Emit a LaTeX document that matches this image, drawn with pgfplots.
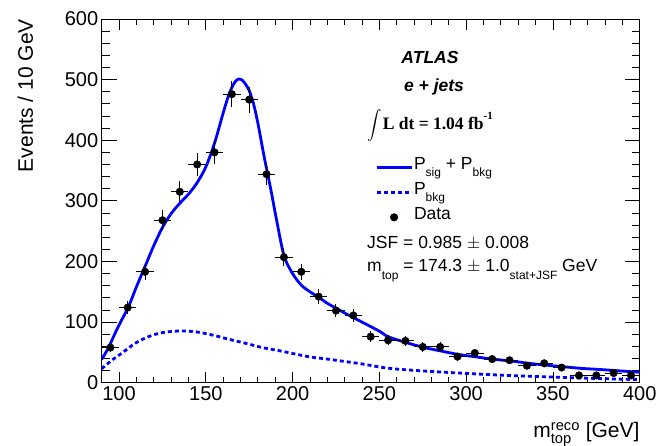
\documentclass[border=0pt]{standalone}
\usepackage{fontspec}
\setmainfont{Liberation Sans}
\newfontfamily\timesf{Liberation Serif}
\usepackage{amsmath}
\usepackage{pgfplots}
\pgfplotsset{compat=1.18}
\pgfplotstableread{
x y ex ey
95 58 5 7.6
105 124 5 11.1
115 183 5 13.5
125 268 5 16.4
135 315 5 17.7
145 360 5 19.0
155 380 5 19.5
165 476 5 21.8
175 467 5 21.6
185 344 5 18.5
195 207 5 14.4
205 183 5 13.5
215 142 5 11.9
225 119 5 10.9
235 111 5 10.5
245 76 5 8.7
255 70 5 8.4
265 69 5 8.3
275 59 5 7.7
285 59 5 7.7
295 43 5 6.6
305 49 5 7.0
315 39 5 6.2
325 37 5 6.1
335 28 5 5.3
345 32 5 5.7
355 25 5 5.0
365 12 5 3.5
375 12 5 3.5
385 16 5 4.0
395 12 5 3.5
}\datatable
\newcommand\lsub[1]{\raisebox{-0.42em}{\fontsize{12}{12}\selectfont #1}}
\newcommand\lsup[1]{\raisebox{0.55em}{\fontsize{11}{11}\selectfont #1}}
\begin{document}
\begin{tikzpicture}[x=1pt,y=1pt]
\useasboundingbox (-101.7,-62.3) rectangle (556.3,382.7);
\begin{axis}[
  at={(0,0)}, anchor=south west,
  scale only axis, width=538pt, height=363.7pt,
  xmin=90, xmax=400, ymin=0, ymax=600,
  xtick={100,150,...,400}, minor x tick num=4,
  ytick={0,100,...,600}, minor y tick num=4,
  tick align=inside, tick pos=both,
  xticklabel pos=lower, yticklabel pos=left,
  major tick length=15pt, minor tick length=8pt,
  xtick style={/pgfplots/major tick length=11pt,/pgfplots/minor tick length=6pt},
  every tick/.style={black, line width=0.8pt},
  axis line style={line width=1pt},
  ticklabel style={font=\fontsize{20}{24}\selectfont},
  /pgf/number format/assume math mode=true,
  ylabel={Events / 10 GeV},
  ylabel style={at={(axis description cs:-0.1277,1)}, anchor=base east, inner sep=0pt, font=\fontsize{21}{24}\selectfont},
  xlabel={m$^{\text{reco}}_{\text{top}}$ [GeV]},
  xlabel style={at={(axis description cs:1,-0.151)}, anchor=base east, inner sep=0pt, font=\fontsize{21}{24}\selectfont},
  legend style={at={(axis description cs:0.508,0.623)}, anchor=north west, draw=none, fill=none, inner sep=0pt,
    font=\fontsize{17.5}{20}\selectfont, row sep=3pt,
    nodes={inner sep=1pt, text height=12pt, text depth=8pt},
    /tikz/every even column/.append style={column sep=6pt}},
  legend cell align=left,
  legend image code/.code={\draw[#1] (0pt,0pt) -- (35pt,0pt);},
]
\addplot[blue, line width=2.8pt, smooth, tension=0.5] coordinates {
(90,38.6) (93.8,57) (97.7,81.5) (101.5,103.5) (105.4,125) (110,158) (115,192) (120,226)
(125,256) (130,279) (135,296) (140,311) (145,330) (150,356) (155,395) (160,445)
(163,473) (165,487) (167,497) (169,501) (171,499) (173,492) (175,482) (177.5,460)
(180,428) (183.6,373) (187.5,318) (190.4,274) (195,210) (200,180) (205,161) (210,150)
(215,141) (220,131) (225,123) (230,115) (240,100) (250,85) (255,76) (265.7,66) (275.9,58)
(286,52) (295.7,46.5) (305.9,42.5) (316,38.6) (326,35.8) (336,32) (346,29) (356,26.4)
(366,23.7) (376,22) (386,20) (396,18) (400,17.3)};
\addlegendentry{P\lsub{sig} + P\lsub{bkg}}
\addplot[blue, line width=2.8pt, dash pattern=on 4pt off 3pt, smooth, tension=0.5] coordinates {
(90,23) (95.8,37) (101.5,48.5) (109.3,65) (117,76) (124.7,82.5) (134.4,85.3) (144,84)
(153.7,78.7) (163.3,71.6) (173,65) (182.7,57.8) (192.3,52.8) (202,47) (210,42.5) (220,39)
(230,35) (240,31) (251,25.5) (260,22.5) (280,18.5) (299,15.5) (320,12.5) (348,9.5)
(375,7) (400,5)};
\addlegendentry{P\lsub{bkg}}
\addplot[only marks, mark=*, mark size=3.8pt, black,
  legend image code/.code={\fill[black] (17.5pt,0pt) circle (3.8pt);},
  error bars/.cd, x dir=both, x explicit, y dir=both, y explicit,
  error mark=none, error bar style={line width=1pt, black}]
  table[x=x, y=y, x error=ex, y error=ey] {\datatable};
\addlegendentry{Data}
\end{axis}
\node[font=\fontsize{17.5}{20}\selectfont\bfseries\itshape, anchor=base] at (328.3,318.7) {ATLAS};
\node[font=\fontsize{17.5}{20}\selectfont\bfseries\itshape, anchor=base] at (332.3,291) {e + jets};
\node[anchor=base west, inner sep=0pt] at (265.5,253.4) {\fontsize{15}{15}\selectfont$\displaystyle\int$\hspace{1pt}\fontsize{17.5}{20}\selectfont\timesf\bfseries L dt = 1.04 fb\lsup{-1}};
\node[anchor=base west, inner sep=0pt, font=\fontsize{17.5}{20}\selectfont] at (265.3,134.4) {JSF = 0.985 $\pm$ 0.008};
\node[anchor=base west, inner sep=0pt, font=\fontsize{17.5}{20}\selectfont] at (265.3,111) {m\lsub{top} = 174.3 $\pm$ 1.0\lsub{stat+JSF} GeV};
\end{tikzpicture}
\end{document}
